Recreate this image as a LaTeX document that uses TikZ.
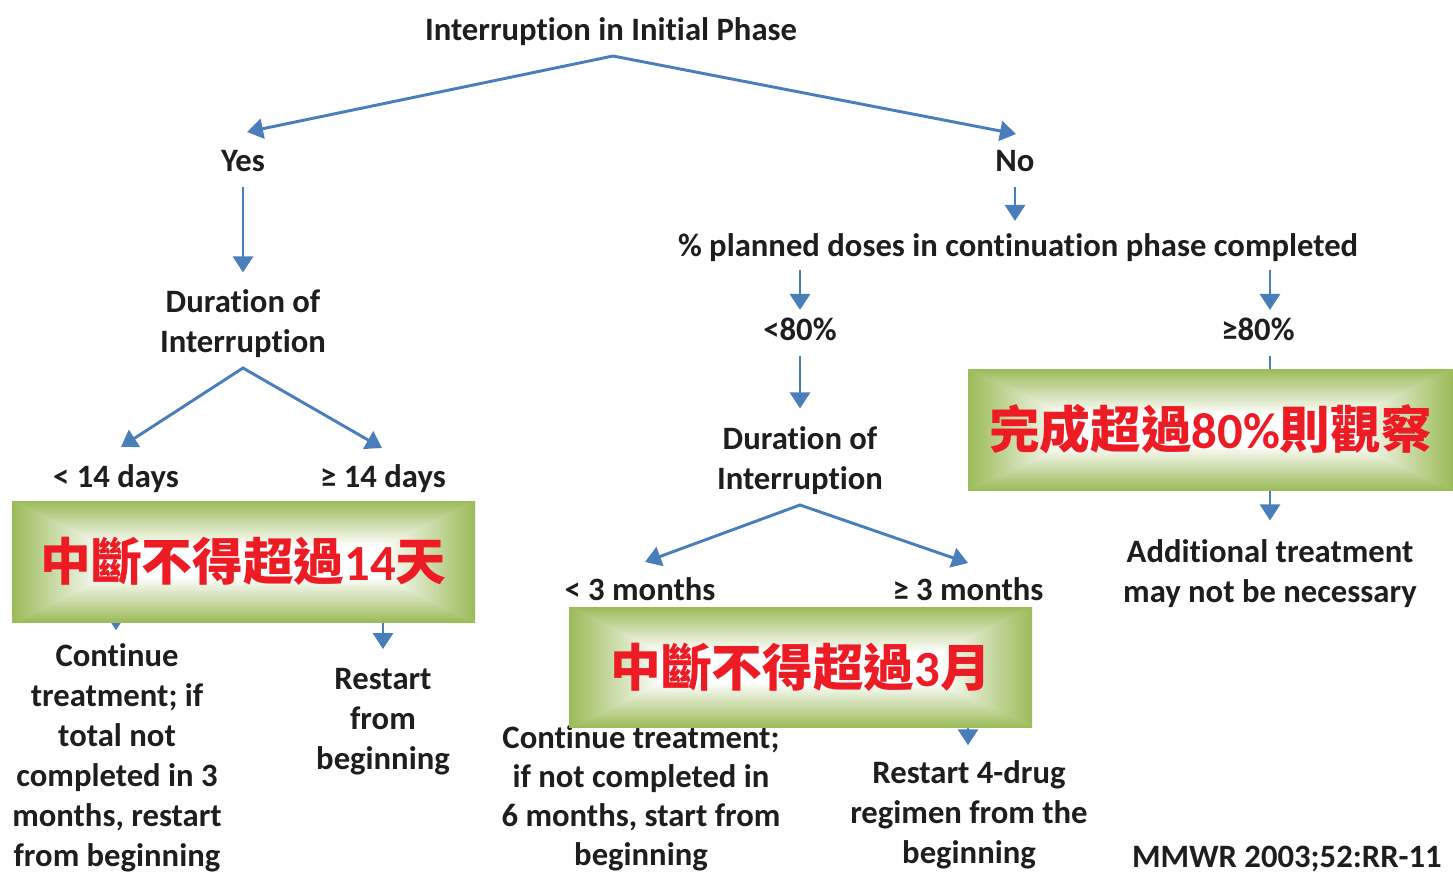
\documentclass[tikz,border=0pt]{standalone}
\usepackage{fontspec}
\setmainfont{Carlito}[Ligatures={NoCommon,NoContextual,NoRare},Contextuals=NoAlternate]
\newfontfamily\cjk{Noto Sans CJK TC}
\newcommand\tisplit{t\kern0pt i}
\usetikzlibrary{arrows.meta,calc}
\definecolor{ink}{RGB}{30,30,30}
\definecolor{arrowblue}{RGB}{74,126,187}
\definecolor{cjkred}{RGB}{237,28,36}
\pgfdeclarefunctionalshading{rectgrad}{\pgfpoint{-50bp}{-50bp}}{\pgfpoint{50bp}{50bp}}{}{
  abs 25 div 0.25 sub 0.75 div dup abs add 2 div
  exch abs 25 div 0.6 sub 0.4 div dup abs add 2 div
  2 copy sub abs add add 2 div
  dup dup 0.392 mul 1 exch sub 3 1 roll 0.267 mul 1 exch sub exch 0.651 mul 1 exch sub
}
\begin{document}
\begin{tikzpicture}[x=0.75pt,y=-0.75pt,
  txt/.style={font=\fontsize{24.5pt}{30pt}\selectfont\bfseries, text=ink, inner sep=0pt, align=center},
  lbl/.style={txt, anchor=base, text height=17pt, text depth=5pt},
  arr/.style={draw=arrowblue, line width=2.2pt, -{Triangle[width=15pt,length=12pt]}},
  arrboth/.style={draw=arrowblue, line width=2.2pt, {Triangle[width=15pt,length=12pt]}-{Triangle[width=15pt,length=12pt]}},
  gbox/.style={shading=rectgrad, inner sep=0pt, text=cjkred, font=\fontsize{38pt}{40pt}\selectfont\bfseries}
]
\useasboundingbox (0,0) rectangle (1453,874);

% text nodes
\node[lbl] (title) at (611,40.5) {Interrup\tisplit{}on in Ini\tisplit{}al Phase};
\node[lbl] (yes) at (243,171.5) {Yes};
\node[lbl] (no) at (1015,171.5) {No};
\node[lbl] (pct) at (1018,256.5) {\% planned doses in con\tisplit{}nua\tisplit{}on phase completed};
\node[lbl] (lt80) at (800,340.5) {<80\%};
\node[lbl] (ge80) at (1258,340.5) {≥80\%};
\node[txt] (dur1) at (243,323.25) {Duration of\\Interrup\tisplit{}on};
\node[lbl] (lt14) at (116,487.5) {< 14 days};
\node[lbl] (ge14) at (383,487.5) {≥ 14 days};
\node[txt] (cont1) at (117,758.25) {Continue\\treatment; if\\total not\\completed in 3\\months, restart\\from beginning};
\node[txt] (rest1) at (383,721.25) {Restart\\from\\beginning};
\node[txt] (dur2) at (800,460.25) {Duration of\\Interrup\tisplit{}on};
\node[lbl] (lt3) at (640,600.5) {< 3 months};
\node[lbl] (ge3) at (968,600.5) {≥ 3 months};
\node[txt, font=\fontsize{24.5pt}{29.2pt}\selectfont\bfseries] (cont2) at (641,798.5) {Continue treatment;\\if not completed in\\6 months, start from\\beginning};
\node[txt] (rest2) at (969,815.25) {Restart 4-drug\\regimen from the\\beginning};
\node[txt] (addl) at (1270,573.25) {Addi\tisplit{}onal treatment\\may not be necessary};
\node[lbl, anchor=base east] (mmwr) at (1442,867.5) {MMWR 2003;52:RR-11};

% split points
\coordinate (ap1) at (613,56);
\coordinate (yestip) at (247,132);
\coordinate (notip) at (1016,134);
\coordinate (ap2) at (243,368);
\coordinate (lt14tip) at (121,447);
\coordinate (ge14tip) at (382,448);
\coordinate (ap3) at (800,505);
\coordinate (lt3tip) at (645,562);
\coordinate (ge3tip) at (968,563);

% connectors
\draw[arrboth] (yestip) -- (ap1) -- (notip);
\draw[arr, shorten <=6.75pt, shorten >=12.4pt] (yes.south) -- (dur1.north);
\draw[arr, shorten <=6.75pt, shorten >=9.45pt] (no.south) -- (no.south |- pct.north);
\draw[arr, shorten <=5.25pt, shorten >=5.7pt] (pct.south -| lt80.north) -- (lt80.north);
\draw[arr, shorten <=5.25pt, shorten >=5.7pt] ([xshift=9pt]pct.south -| ge80.north) -- ([xshift=9pt]ge80.north);
\draw[arr, shorten <=6.75pt, shorten >=13.1pt] (lt80.south) -- (dur2.north);
\draw[arr, shorten <=6.75pt, shorten >=13.9pt] ([xshift=9pt]ge80.south) -- (addl.north);
\draw[arrboth] (lt14tip) -- (ap2) -- (ge14tip);
\draw[arr, shorten <=6.75pt, shorten >=10.1pt] (lt14.south) -- (lt14.south |- cont1.north);
\draw[arr, shorten <=6.75pt, shorten >=13.9pt] (ge14.south) -- (rest1.north);
\draw[arrboth] (lt3tip) -- (ap3) -- (ge3tip);
\draw[arr, shorten <=6.75pt, shorten >=3pt] (lt3.south) -- (lt3.south |- cont2.north);
\draw[arr, shorten <=6.75pt, shorten >=11.6pt] (ge3.south) -- (ge3.south |- rest2.north);

% green boxes
\node[gbox, minimum width=347.25pt, minimum height=90.75pt] (box1) at (243.5,561.5) {{\cjk 中斷不得超過}14{\cjk 天}};
\node[gbox, minimum width=347.25pt, minimum height=90pt] (box2) at (800.5,667) {{\cjk 中斷不得超過}3{\cjk 月}};
\node[gbox, minimum width=363.75pt, minimum height=90.75pt] (box3) at (1210.5,429.5) {{\cjk 完成超過}80\%{\cjk 則觀察}};
\end{tikzpicture}
\end{document}
